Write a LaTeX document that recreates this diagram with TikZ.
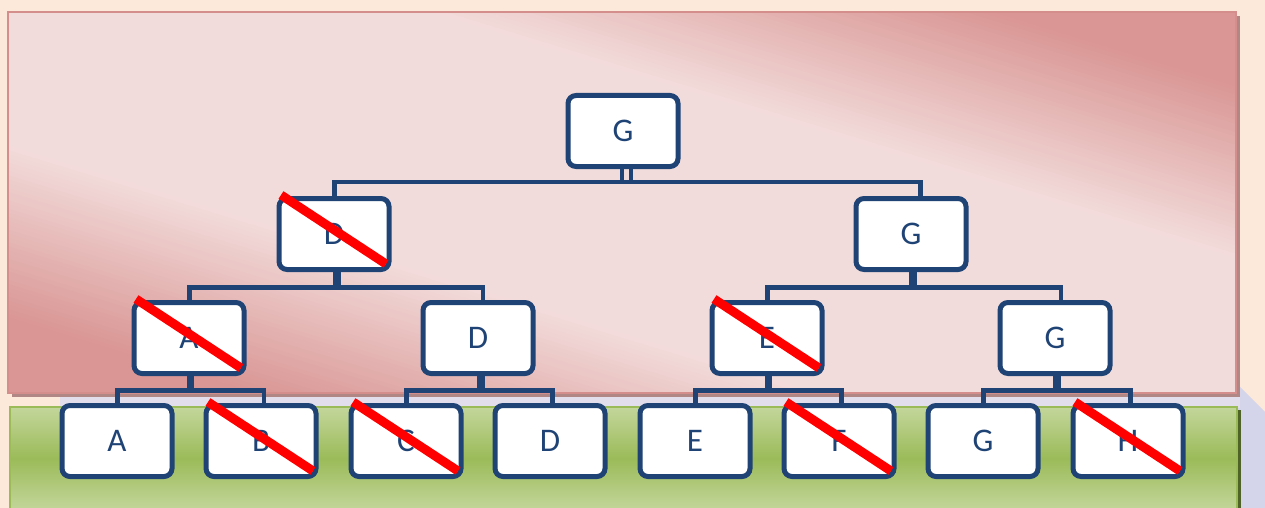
\documentclass[tikz,border=0pt]{standalone}
\usepackage{fontspec}
\setmainfont{Carlito}
\definecolor{bg}{HTML}{FDE9D9}
\definecolor{plight}{HTML}{F2DCDB}
\definecolor{pdark}{HTML}{D99694}
\definecolor{pborder}{HTML}{D48F8D}
\definecolor{pshadow}{HTML}{B08784}
\definecolor{glight}{HTML}{C3D69B}
\definecolor{gdark}{HTML}{9BBB59}
\definecolor{gborder}{HTML}{9BBB59}
\definecolor{gshadow}{HTML}{4F6228}
\definecolor{lav}{HTML}{D4D4EA}
\definecolor{lavgap}{HTML}{E2DEEC}
\definecolor{nb}{HTML}{1F4375}
\tikzset{
  box/.style={draw=nb, line width=5pt, fill=white, rounded corners=8pt,
    minimum width=110pt, minimum height=71pt, inner sep=0pt,
    text=nb, font=\fontsize{33}{33}\selectfont},
  conn/.style={draw=nb, line width=4.5pt, line join=miter},
  stemline/.style={draw=nb, line width=7.5pt},
  cross/.style={draw=red, line width=9pt}
}
\begin{document}
\begin{tikzpicture}[x=1pt,y=-1pt]
\useasboundingbox (0,0) rectangle (1265,508);
\fill[bg] (0,0) rectangle (1265,508);
% lavender shadow areas
\fill[lav] (1238,385) -- (1265,412) -- (1265,508) -- (1238,508) -- cycle;
\fill[lavgap] (60,395) rectangle (1240,408);
% pink panel
\fill[pshadow] (12,16) rectangle (1240,397);
\begin{scope}
\clip (8,12) rectangle (1236,393);
\begin{scope}[rotate around={-17:(622,202.5)}]
\foreach \i in {-100,...,100}{
  \pgfmathtruncatemacro\p{max(0,min(100,(abs(\i*4)-125)/1.65))}
  \fill[pdark!\p!plight] (-300,{202.5+\i*4-2.6}) rectangle (1600,{202.5+\i*4+2.6});
}
\end{scope}
\end{scope}
\draw[pborder, line width=2pt] (8,12) rectangle (1236,393);
% green band
\fill[gshadow] (14,410) rectangle (1241,512);
\shade[top color=glight, bottom color=glight, middle color=gdark] (10,407) rectangle (1237,510);
\draw[gborder, line width=1.5pt] (10,407) rectangle (1237,512);
% nodes
\node[box] (r) at (623,131) {G};
\node[box] (l) at (334,234) {D};
\node[box] (rr) at (911,234) {G};
\node[box] (ll) at (189,338) {A};
\node[box] (lr) at (478,338) {D};
\node[box] (rl) at (767,338) {E};
\node[box] (rrr) at (1055,338) {G};
\node[box] (a) at (117,441) {A};
\node[box] (b) at (261,441) {B};
\node[box] (c) at (406,441) {C};
\node[box] (d) at (550,441) {D};
\node[box] (e) at (695,441) {E};
\node[box] (f) at (839,441) {F};
\node[box] (g) at (983,441) {G};
\node[box] (h) at (1128,441) {H};
% bar levels
\coordinate (bar1) at (0,182);
\coordinate (bar2) at (0,287.5);
\coordinate (bar3) at (0,390.5);
% root
\draw[conn] ([xshift=-1pt]r.south) -- ([xshift=-1pt]r.south |- bar1);
\draw[conn] ([xshift=8pt]r.south) -- ([xshift=8pt]r.south |- bar1);
\draw[conn] ([xshift=0.5pt]l.north) -- ([xshift=0.5pt]l.north |- bar1) -- ([xshift=9.5pt]rr.north |- bar1) -- ([xshift=9.5pt]rr.north);
% level 2
\draw[stemline] ([xshift=3pt]l.south) -- ([xshift=3pt]l.south |- bar2);
\draw[conn] ([xshift=0.5pt]ll.north) -- ([xshift=0.5pt]ll.north |- bar2) -- ([xshift=5pt]lr.north |- bar2) -- ([xshift=5pt]lr.north);
\draw[stemline] ([xshift=2pt]rr.south) -- ([xshift=2pt]rr.south |- bar2);
\draw[conn] ([xshift=0.5pt]rl.north) -- ([xshift=0.5pt]rl.north |- bar2) -- ([xshift=6pt]rrr.north |- bar2) -- ([xshift=6pt]rrr.north);
% level 3
\draw[stemline] ([xshift=1.5pt]ll.south) -- ([xshift=1.5pt]ll.south |- bar3);
\draw[conn] ([xshift=0.5pt]a.north) -- ([xshift=0.5pt]a.north |- bar3) -- ([xshift=3pt]b.north |- bar3) -- ([xshift=3pt]b.north);
\draw[stemline] ([xshift=3pt]lr.south) -- ([xshift=3pt]lr.south |- bar3);
\draw[conn] ([xshift=0.5pt]c.north) -- ([xshift=0.5pt]c.north |- bar3) -- ([xshift=2.5pt]d.north |- bar3) -- ([xshift=2.5pt]d.north);
\draw[stemline] ([xshift=1.5pt]rl.south) -- ([xshift=1.5pt]rl.south |- bar3);
\draw[conn] ([xshift=0.5pt]e.north) -- ([xshift=0.5pt]e.north |- bar3) -- ([xshift=2.5pt]f.north |- bar3) -- ([xshift=2.5pt]f.north);
\draw[stemline] ([xshift=2pt]rrr.south) -- ([xshift=2pt]rrr.south |- bar3);
\draw[conn] ([xshift=0.5pt]g.north) -- ([xshift=0.5pt]g.north |- bar3) -- ([xshift=2.5pt]h.north |- bar3) -- ([xshift=2.5pt]h.north);
% crosses
\foreach \n in {l,ll,rl,b,c,f,h}{
  \draw[cross] ([shift={(-53,-39)}]\n.center) -- ([shift={(52,30)}]\n.center);
}
\end{tikzpicture}
\end{document}
